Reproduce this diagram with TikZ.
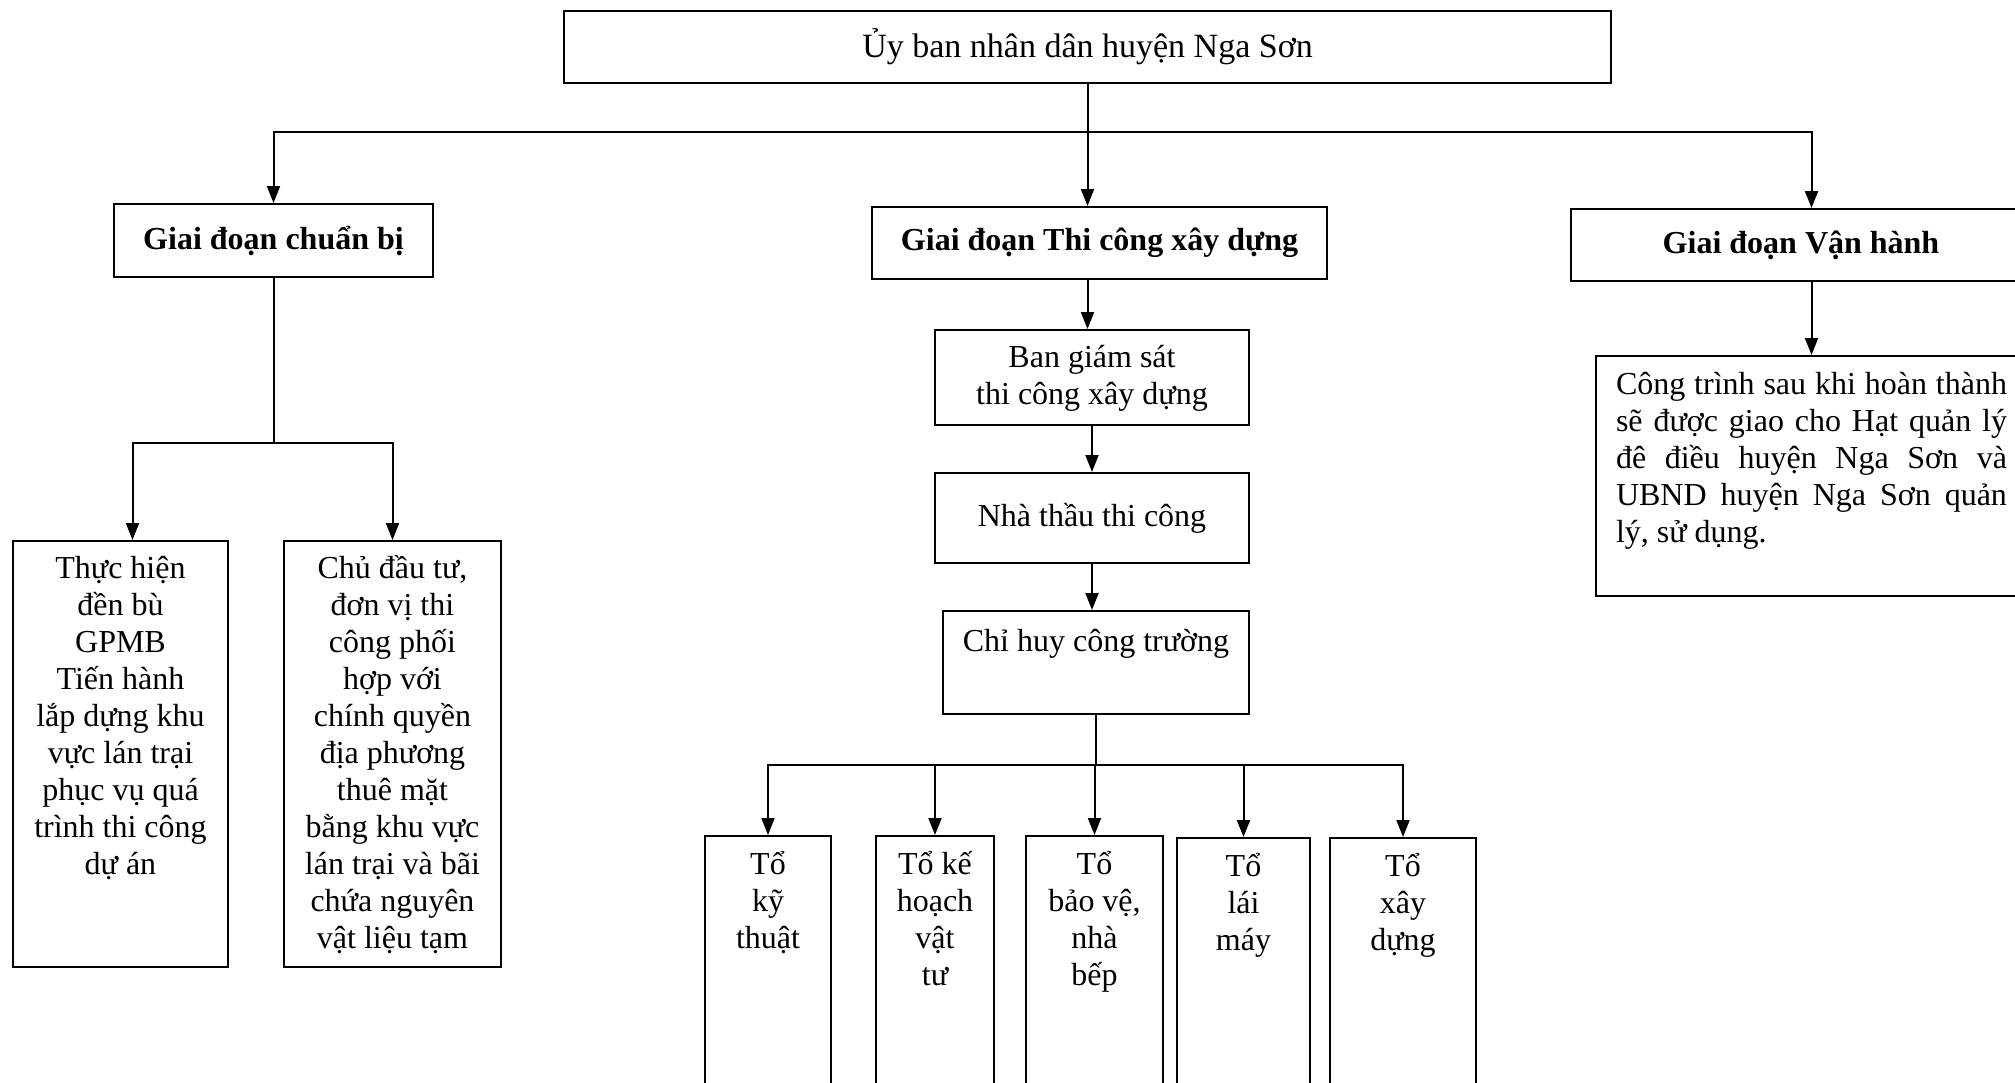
\documentclass[tikz,border=0pt]{standalone}
\usepackage{fontspec}
\setmainfont{Liberation Serif}
\usetikzlibrary{arrows.meta,positioning}
\newcommand{\topbox}[3]{\begin{minipage}[t][#2pt][t]{#1pt}\centering\rule{0pt}{37pt}#3\end{minipage}}
\newcommand{\fillline}[1]{\makebox[391pt][s]{#1}}

\begin{document}
\begin{tikzpicture}[->,>={Triangle[length=17pt,width=13pt]},x=1pt,y=-1pt,line width=2pt,line cap=rect,font=\fontsize{32}{37}\selectfont]
\tikzstyle{unit}=[draw,line width=2pt,inner sep=0pt,anchor=north west]
\useasboundingbox[fill=white] (0,0) rectangle (2015,1082);
% top level and the three stages
\node[unit,minimum width=1047pt,minimum height=72pt,font=\fontsize{34}{37}\selectfont] (gov) at (563,10) {Ủy ban nhân dân huyện Nga Sơn};
\node[unit,minimum width=319pt,minimum height=73pt] (prep) at (113,203) {\textbf{Giai đoạn chuẩn bị}};
\node[unit,minimum width=455pt,minimum height=72pt] (build) at (871,206) {\textbf{Giai đoạn Thi công xây dựng}};
\node[unit,minimum width=460pt,minimum height=72pt] (oper) at (1570,208) {\textbf{Giai đoạn Vận hành}};
% preparation
\node[unit] (comp) at (12,540) {\topbox{215}{426}{Thực hiện\\đền bù\\GPMB\\Tiến hành\\lắp dựng khu\\vực lán trại\\phục vụ quá\\trình thi công\\dự án}};
\node[unit] (coop) at (283,540) {\topbox{217}{426}{Chủ đầu tư,\\đơn vị thi\\công phối\\hợp với\\chính quyền\\địa phương\\thuê mặt\\bằng khu vực\\lán trại và bãi\\chứa nguyên\\vật liệu tạm}};
% construction
\node[unit] (super) at (934,329) {\topbox{314}{95}{Ban giám sát\\thi công xây dựng}};
\node[unit,minimum width=314pt,minimum height=90pt] (contr) at (934,472) {Nhà thầu thi công};
\node[unit] (site) at (942,610) {\topbox{306}{103}{\rule{0pt}{40pt}Chỉ huy công trường}};
\node[unit] (tech) at (704,835) {\topbox{126}{260}{\rule{0pt}{38pt}Tổ\\kỹ\\thuật}};
\node[unit] (plan) at (875,835) {\topbox{118}{260}{\rule{0pt}{38pt}Tổ kế\\hoạch\\vật\\tư}};
\node[unit] (guard) at (1025,835) {\topbox{137}{260}{\rule{0pt}{38pt}Tổ\\bảo vệ,\\nhà\\bếp}};
\node[unit] (drive) at (1176,837) {\topbox{133}{260}{\rule{0pt}{38pt}Tổ\\lái\\máy}};
\node[unit] (mason) at (1329,837) {\topbox{146}{260}{\rule{0pt}{38pt}Tổ\\xây\\dựng}};
% operation
\node[unit] (result) at (1595,355) {\begin{minipage}[t][240pt][t]{431pt}\raggedright\leftskip=20pt\rule{0pt}{38pt}\fillline{Công trình sau khi hoàn thành}\\\fillline{sẽ được giao cho Hạt quản lý}\\\fillline{đê điều huyện Nga Sơn và}\\\fillline{UBND huyện Nga Sơn  quản}\\lý, sử dụng.\end{minipage}};

\coordinate (trunk) at (0,132);
\coordinate (prepfork) at (0,443);
\coordinate (crewfork) at (0,765);
\coordinate (compin) at ([xshift=12pt]comp.north);

\draw (gov.south) -- (gov.south |- build.north);
\draw[-] (prep.north |- trunk) -- (result.north |- trunk);
\draw (prep.north |- trunk) -- (prep.north);
\draw (result.north |- trunk) -- (result.north |- oper.north);
\draw (result.north |- oper.south) -- (result.north);

\draw[-] (prep.south) -- (prep.south |- prepfork);
\draw[-] (compin |- prepfork) -- (coop.north |- prepfork);
\draw (compin |- prepfork) -- (compin);
\draw (coop.north |- prepfork) -- (coop.north);

\draw (gov.south |- build.south) -- (gov.south |- super.north);
\draw (super.south) -- (contr.north);
\draw (contr.south) -- (contr.south |- site.north);
\draw[-] (site.south) -- (site.south |- crewfork);
\draw[-] (tech.north |- crewfork) -- (mason.north |- crewfork);
\foreach \n in {tech,plan,guard,drive,mason}
  \draw (\n.north |- crewfork) -- (\n.north);
\end{tikzpicture}
\end{document}
